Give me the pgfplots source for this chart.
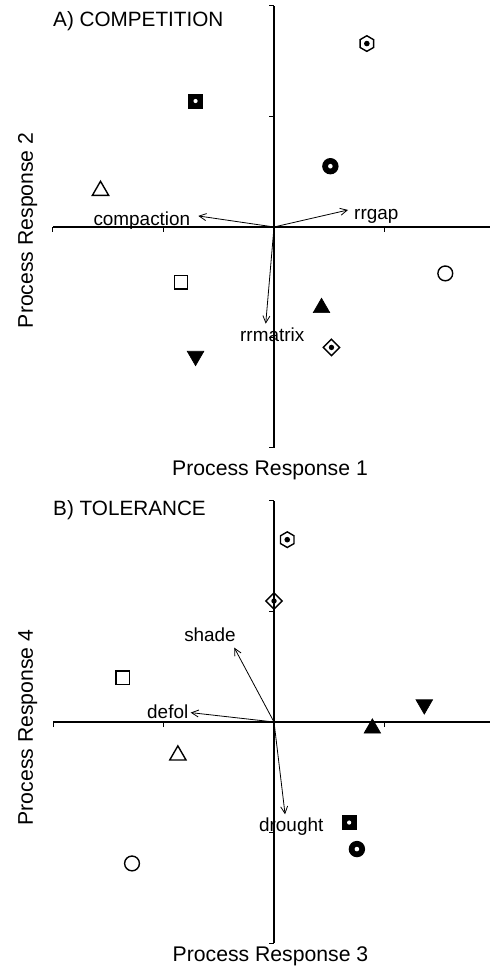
\documentclass[border=0pt]{standalone}
\usepackage{fontspec}
\setmainfont{Liberation Sans}
\usepackage{pgfplots}
\pgfplotsset{compat=1.18}
\usetikzlibrary{arrows.meta}

% ---- custom marks ----
\pgfdeclareplotmark{hexdot}{%
  \pgfpathmoveto{\pgfpointpolar{90}{\pgfplotmarksize}}%
  \pgfpathlineto{\pgfpointpolar{150}{\pgfplotmarksize}}%
  \pgfpathlineto{\pgfpointpolar{210}{\pgfplotmarksize}}%
  \pgfpathlineto{\pgfpointpolar{270}{\pgfplotmarksize}}%
  \pgfpathlineto{\pgfpointpolar{330}{\pgfplotmarksize}}%
  \pgfpathlineto{\pgfpointpolar{30}{\pgfplotmarksize}}%
  \pgfpathclose
  \pgfusepathqstroke
  \pgfpathcircle{\pgfpointorigin}{0.36\pgfplotmarksize}%
  \pgfusepathqfill
}
\pgfdeclareplotmark{diadot}{%
  \pgfpathmoveto{\pgfpoint{0pt}{\pgfplotmarksize}}%
  \pgfpathlineto{\pgfpoint{\pgfplotmarksize}{0pt}}%
  \pgfpathlineto{\pgfpoint{0pt}{-\pgfplotmarksize}}%
  \pgfpathlineto{\pgfpoint{-\pgfplotmarksize}{0pt}}%
  \pgfpathclose
  \pgfusepathqstroke
  \pgfpathcircle{\pgfpointorigin}{0.33\pgfplotmarksize}%
  \pgfusepathqfill
}
\pgfdeclareplotmark{sqdot}{%
  \pgfsetfillcolor{black}%
  \pgfpathrectangle{\pgfpoint{-\pgfplotmarksize}{-\pgfplotmarksize}}{\pgfpoint{2\pgfplotmarksize}{2\pgfplotmarksize}}%
  \pgfusepathqfillstroke
  \pgfsetfillcolor{white}%
  \pgfpathcircle{\pgfpointorigin}{0.3\pgfplotmarksize}%
  \pgfusepathqfill
}
\pgfdeclareplotmark{ringdot}{%
  \pgfsetfillcolor{black}%
  \pgfpathcircle{\pgfpointorigin}{\pgfplotmarksize}%
  \pgfusepathqfill
  \pgfsetfillcolor{white}%
  \pgfpathcircle{\pgfpointorigin}{0.28\pgfplotmarksize}%
  \pgfusepathqfill
}
\pgfdeclareplotmark{osq}{%
  \pgfpathrectangle{\pgfpoint{-\pgfplotmarksize}{-\pgfplotmarksize}}{\pgfpoint{2\pgfplotmarksize}{2\pgfplotmarksize}}%
  \pgfusepathqstroke
}
\pgfdeclareplotmark{ocirc}{%
  \pgfpathcircle{\pgfpointorigin}{\pgfplotmarksize}%
  \pgfusepathqstroke
}
\pgfdeclareplotmark{otri}{%
  \pgfpathmoveto{\pgfpoint{0pt}{0.75\pgfplotmarksize}}%
  \pgfpathlineto{\pgfpoint{0.866\pgfplotmarksize}{-0.75\pgfplotmarksize}}%
  \pgfpathlineto{\pgfpoint{-0.866\pgfplotmarksize}{-0.75\pgfplotmarksize}}%
  \pgfpathclose
  \pgfusepathqstroke
}
\pgfdeclareplotmark{ftri}{%
  \pgfsetfillcolor{black}%
  \pgfpathmoveto{\pgfpoint{0pt}{0.75\pgfplotmarksize}}%
  \pgfpathlineto{\pgfpoint{0.866\pgfplotmarksize}{-0.75\pgfplotmarksize}}%
  \pgfpathlineto{\pgfpoint{-0.866\pgfplotmarksize}{-0.75\pgfplotmarksize}}%
  \pgfpathclose
  \pgfusepathqfillstroke
}
\pgfdeclareplotmark{ftridown}{%
  \pgfsetfillcolor{black}%
  \pgfpathmoveto{\pgfpoint{0pt}{-0.75\pgfplotmarksize}}%
  \pgfpathlineto{\pgfpoint{0.866\pgfplotmarksize}{0.75\pgfplotmarksize}}%
  \pgfpathlineto{\pgfpoint{-0.866\pgfplotmarksize}{0.75\pgfplotmarksize}}%
  \pgfpathclose
  \pgfusepathqfillstroke
}

\pgfplotsset{
  myax/.style={
    scale only axis, width=437.6bp, height=442bp,
    xmin=-2, xmax=1.96, ymin=-2, ymax=2,
    axis lines=middle,
    axis line style={line width=1.3bp, -},
    xtick={-2,-1,1}, ytick={-2,-1,1,2},
    xticklabels={,,}, yticklabels={,,,},
    tick align=outside, major tick length=5bp,
    tick style={line width=1bp, black},
    clip=false,
  },
  pt/.style={only marks, mark options={solid, line width=1.4bp, draw=black, fill=black}},
  arr/.style={no marks, black, line width=0.8bp, -{Straight Barb[length=7bp,width=7bp]}},
}
\tikzset{
  lab/.style={inner sep=0pt, font=\fontsize{18.9bp}{22bp}\selectfont},
  ttl/.style={inner sep=0pt, font=\fontsize{20.7bp}{24bp}\selectfont},
  axl/.style={inner sep=0pt, font=\fontsize{21.2bp}{25bp}\selectfont},
}

\begin{document}
\begin{tikzpicture}
\useasboundingbox (0bp,0bp) rectangle (490bp,968bp);

% ---------------- Panel A ----------------
\begin{axis}[myax, at={(53bp,520bp)}, anchor=south west]
\addplot[arr] coordinates {(0,0) (-0.685,0.10)};
\addplot[arr] coordinates {(0,0) (0.67,0.154)};
\addplot[arr] coordinates {(0,0) (-0.075,-0.875)};
\addplot[pt, mark=hexdot, mark size=7.8bp] coordinates {(0.84,1.66)};
\addplot[pt, mark=sqdot, mark size=7bp, mark options={line width=0.6bp}] coordinates {(-0.71,1.14)};
\addplot[pt, mark=ringdot, mark size=8.2bp] coordinates {(0.51,0.55)};
\addplot[pt, mark=otri, mark size=9.4bp] coordinates {(-1.57,0.35)};
\addplot[pt, mark=osq, mark size=6.6bp] coordinates {(-0.84,-0.50)};
\addplot[pt, mark=ocirc, mark size=7.4bp] coordinates {(1.55,-0.42)};
\addplot[pt, mark=ftri, mark size=9.6bp, mark options={line width=0.6bp}] coordinates {(0.43,-0.71)};
\addplot[pt, mark=ftridown, mark size=9.6bp, mark options={line width=0.6bp}] coordinates {(-0.71,-1.19)};
\addplot[pt, mark=diadot, mark size=8.2bp] coordinates {(0.52,-1.09)};
\node[lab, anchor=base west] at (axis cs:-1.635,0.018) {compaction};
\node[lab, anchor=base west] at (axis cs:0.724,0.07) {rrgap};
\node[lab, anchor=base west] at (axis cs:-0.308,-1.038) {rrmatrix};
\node[ttl, anchor=base west] at (axis cs:-2,1.81) {A) COMPETITION};
\node[axl, anchor=base] at (axis cs:-0.036,-2.253) {Process Response 1};
\node[axl, anchor=base, rotate=90] at (axis cs:-2.181,-0.03) {Process Response 2};
\end{axis}

% ---------------- Panel B ----------------
\begin{axis}[myax, at={(53bp,25bp)}, anchor=south west]
\addplot[arr] coordinates {(0,0) (-0.36,0.673)};
\addplot[arr] coordinates {(0,0) (-0.754,0.085)};
\addplot[arr] coordinates {(0,0) (0.10,-0.835)};
\addplot[pt, mark=hexdot, mark size=7.8bp] coordinates {(0.12,1.65)};
\addplot[pt, mark=sqdot, mark size=7bp, mark options={line width=0.6bp}] coordinates {(0.68,-0.91)};
\addplot[pt, mark=ringdot, mark size=8.2bp] coordinates {(0.75,-1.15)};
\addplot[pt, mark=otri, mark size=9.4bp] coordinates {(-0.87,-0.28)};
\addplot[pt, mark=osq, mark size=6.6bp] coordinates {(-1.37,0.40)};
\addplot[pt, mark=ocirc, mark size=7.4bp] coordinates {(-1.285,-1.28)};
\addplot[pt, mark=ftri, mark size=9.6bp, mark options={line width=0.6bp}] coordinates {(0.89,-0.036)};
\addplot[pt, mark=ftridown, mark size=9.6bp, mark options={line width=0.6bp}] coordinates {(1.36,0.136)};
\addplot[pt, mark=diadot, mark size=8.2bp] coordinates {(0.0,1.095)};
\node[lab, anchor=base west] at (axis cs:-0.814,0.733) {shade};
\node[lab, anchor=base west] at (axis cs:-1.149,0.031) {defol};
\node[lab, anchor=base west] at (axis cs:-0.136,-0.995) {drought};
\node[ttl, anchor=base west] at (axis cs:-2,1.87) {B) TOLERANCE};
\node[axl, anchor=base] at (axis cs:-0.032,-2.163) {Process Response 3};
\node[axl, anchor=base, rotate=90] at (axis cs:-2.181,-0.05) {Process Response 4};
\end{axis}
\end{tikzpicture}
\end{document}
